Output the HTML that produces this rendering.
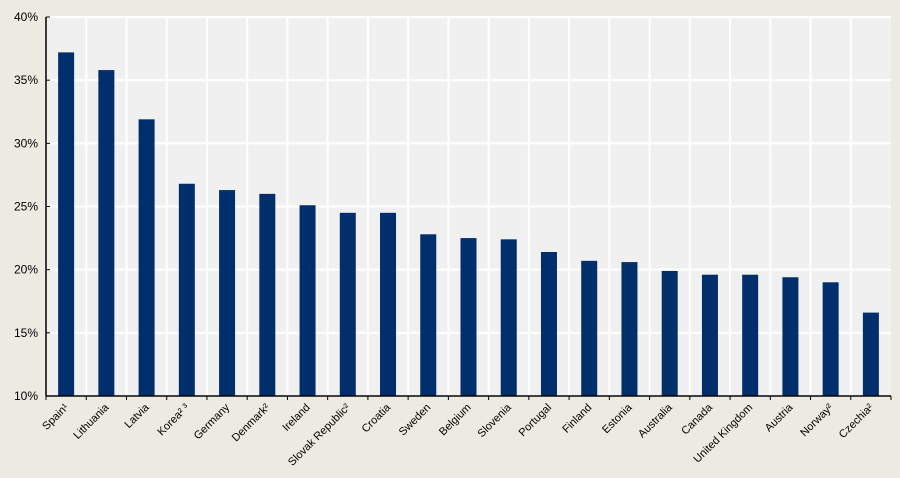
<!DOCTYPE html>
<html><head><meta charset="utf-8"><style>
body{margin:0;background:#edeae1;}
svg{display:block;font-family:"Liberation Sans",sans-serif;}
</style></head><body>
<svg id="c" width="900" height="478">
<rect x="0" y="0" width="900" height="478" fill="#edeae1"/>
<g id="g"></g>
</svg>
<script>
const categories=["Spain¹","Lithuania","Latvia","Korea² ³","Germany","Denmark²","Ireland","Slovak Republic²","Croatia","Sweden","Belgium","Slovenia","Portugal","Finland","Estonia","Australia","Canada","United Kingdom","Austria","Norway²","Czechia²"];
const values=[37.2,35.8,31.9,26.8,26.3,26.0,25.1,24.5,24.5,22.8,22.5,22.4,21.4,20.7,20.6,19.9,19.6,19.6,19.4,19.0,16.6];
const yTicks=[10,15,20,25,30,35,40];
const NS="http://www.w3.org/2000/svg";
const L=46,R=891,T=17,B=396,ymin=10,ymax=40;
const band=(R-L)/categories.length;
const x=i=>L+i*band;
const y=v=>B-(v-ymin)/(ymax-ymin)*(B-T);
const g=document.getElementById('g');
function mk(t,a){const e=document.createElementNS(NS,t);for(const k in a)e.setAttribute(k,a[k]);g.appendChild(e);return e;}
const pa=mk('rect',{x:L,y:T,width:R-L,height:B-T,fill:'#f0f0f0'});


yTicks.forEach(t=>{
  const gl=mk('line',{x1:L,x2:R,y1:y(t),y2:y(t),stroke:'#fff','stroke-width':2});
  
  
  const tk=mk('line',{x1:L,x2:L+4,y1:y(t),y2:y(t),stroke:'#000','stroke-width':1});
  
  
  const tl=mk('text',{x:L-8,y:y(t)+4,'text-anchor':'end','font-size':12,fill:'#000'});
  tl.textContent=t+'%';
  
  
});
for(let i=1;i<categories.length;i++){
  const vl=mk('line',{x1:x(i),x2:x(i),y1:T,y2:B,stroke:'#fff','stroke-width':2});
  
  
}
categories.forEach((c,i)=>{
  const cx=x(i)+band/2;
  const b=mk('rect',{x:cx-8,y:y(values[i]),width:16,height:B-y(values[i]),fill:'#002f6c'});
  
  
  const lb=mk('text',{x:cx+3,y:B+12,'text-anchor':'end','font-size':11,fill:'#000',transform:`rotate(-45 ${cx+3} ${B+12})`});
  lb.textContent=c;
  
  
});
for(let i=0;i<=categories.length;i++){
  const tk=mk('line',{x1:x(i),x2:x(i),y1:B,y2:B+4,stroke:'#000','stroke-width':1});
  
  
}
const ya=mk('line',{x1:L,x2:L,y1:T,y2:B,stroke:'#000','stroke-width':1.5});


const xa=mk('line',{x1:L,x2:R,y1:B,y2:B,stroke:'#000','stroke-width':1.5});


</script>
</body></html>
